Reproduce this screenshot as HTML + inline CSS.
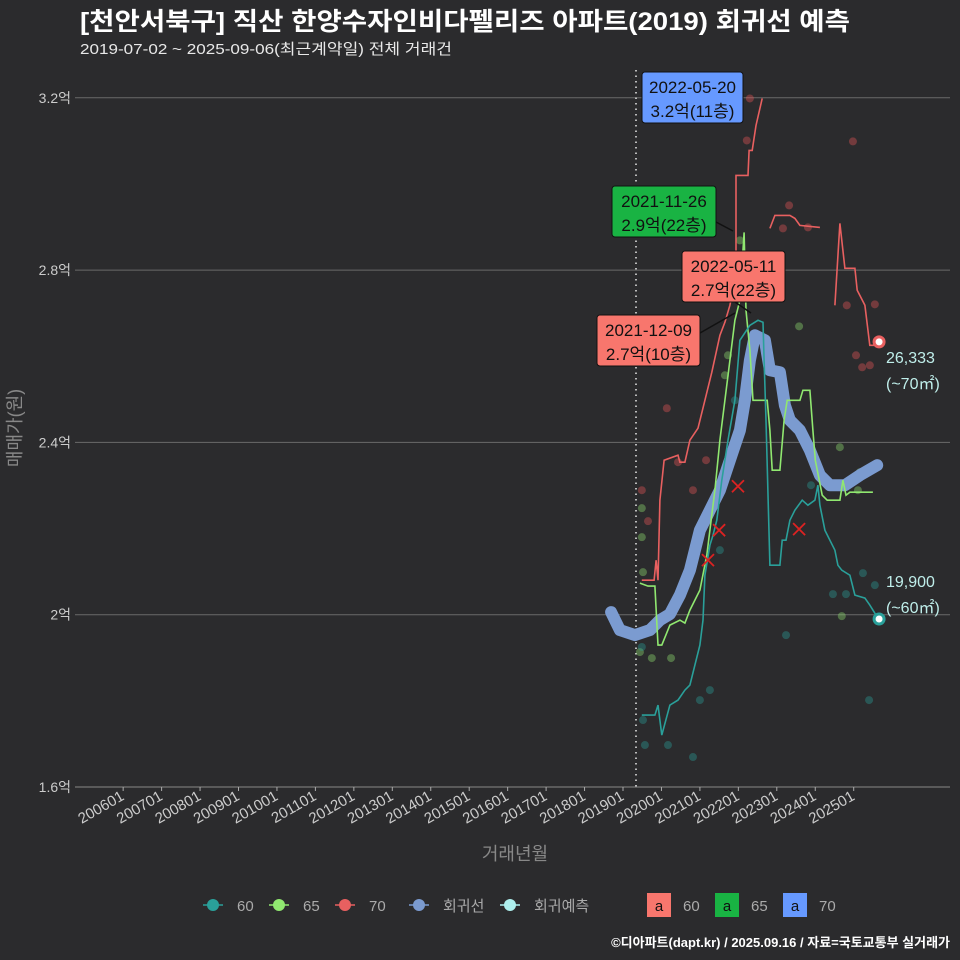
<!DOCTYPE html>
<html><head><meta charset="utf-8"><style>
body{margin:0;background:#2b2b2d;}
svg{display:block;font-family:"Liberation Sans","Noto Sans CJK KR",sans-serif;}
</style></head><body>
<svg id="c" width="960" height="960" viewBox="0 0 960 960">
<rect width="960" height="960" fill="#2b2b2d"/>
<text x="80" y="30" fill="#ffffff" font-size="25" font-weight="bold" textLength="770" lengthAdjust="spacingAndGlyphs">[천안서북구] 직산 한양수자인비다펠리즈 아파트(2019) 회귀선 예측</text>
<text x="80" y="54" fill="#e8e8e8" font-size="15" textLength="372" lengthAdjust="spacingAndGlyphs">2019-07-02 ~ 2025-09-06(최근계약일) 전체 거래건</text>
<text transform="translate(21,428) rotate(-90)" text-anchor="middle" fill="#888" font-size="18">매매가(원)</text>
<text x="515" y="860" text-anchor="middle" fill="#888" font-size="18">거래년월</text>
<g id="grid"></g><g id="marks"></g><g id="ann"></g>
<text x="950" y="947" text-anchor="end" fill="#fff" font-size="13" font-weight="bold">©디아파트(dapt.kr) / 2025.09.16 / 자료=국토교통부 실거래가</text>
<g id="legend"></g>
</svg>
<script>
const yTicks=[16000,20000,24000,28000,32000];
const yTickLabels=["1.6억","2억","2.4억","2.8억","3.2억"];
const xTickYears=[2006,2007,2008,2009,2010,2011,2012,2013,2014,2015,2016,2017,2018,2019,2020,2021,2022,2023,2024,2025];
const regDates=[2018.69,2018.92,2019.31,2019.70,2019.96,2020.22,2020.48,2020.74,2021.00,2021.26,2021.52,2021.78,2022.04,2022.17,2022.30,2022.43,2022.69,2022.82,2023.08,2023.21,2023.34,2023.60,2023.86,2024.12,2024.38,2024.77,2025.16,2025.61];
const regValues=[20060,19642,19526,19642,19874,20014,20454,21034,21962,22426,22890,23586,24282,24978,25906,26486,26370,25674,25628,24862,24514,24282,23818,23238,23006,23006,23238,23470];
const s70Dates=[2019.49,2019.81,2019.86,2019.91,2019.96,2020.07,2020.43,2020.48,2020.61,2020.74,2020.95,2021.13,2021.31,2021.52,2021.65,2021.78,2021.86,2021.94,2021.94,2022.25,2022.28,2022.36,2022.46,2022.62,null,2022.82,2022.95,2023.34,2023.47,2023.60,2024.12,null,2024.51,2024.64,2024.77,2025.03,2025.09,2025.29,2025.42,2025.58];
const s70Values=[20802,20802,21266,20802,22658,23586,23702,23540,23540,24050,24329,24978,25628,26486,26788,27182,27530,28226,30198,30198,30778,30778,31358,31985,null,28969,29270,29270,29201,29038,28992,null,27182,29085,28041,28041,27530,27182,26254,26254];
const s65Dates=[2019.44,2019.65,2019.83,2019.91,2020.01,2020.22,2020.48,2020.61,2020.74,2021.00,2021.18,2021.26,2021.39,2021.52,2021.65,2021.78,2021.91,2022.04,2022.15,2022.20,2022.30,2022.38,2022.75,2022.82,2022.88,2023.08,2023.19,2023.27,2023.60,2023.68,2023.86,2023.94,2024.00,2024.18,2024.31,2024.64,2024.72,2024.80,2024.90,2025.50];
const s65Values=[20733,20663,20663,19294,19294,19758,19874,19805,20106,20570,21382,21962,22890,24050,24978,25906,26834,27298,28876,27066,26138,24978,24978,24282,23354,23354,24514,24978,24978,25210,25210,24282,23586,22774,22658,22658,23122,22774,22844,22844];
const s60Dates=[2019.49,2019.83,2019.91,2020.01,2020.22,2020.43,2020.61,2020.74,2020.87,2021.00,2021.08,2021.13,2021.26,2021.34,2021.44,2021.57,2021.73,2021.91,2022.04,2022.30,2022.51,2022.64,2022.67,2022.72,2022.82,2023.08,2023.14,2023.24,2023.34,2023.47,2023.66,2023.81,2023.99,2024.07,2024.12,2024.25,2024.51,2024.59,2024.69,2024.90,2025.03,2025.29,2025.42,2025.66];
const s60Values=[17670,17670,17902,17206,17902,18018,18250,18366,18830,19294,19874,20918,21614,21846,22194,23122,24050,24978,26370,26718,26834,26788,25906,24514,21150,21150,21730,21730,22194,22426,22658,22542,22658,23006,22542,21962,21498,21150,21034,20918,20454,20385,20222,19874];
const p70Dates=[2019.49,2019.65,2020.14,2020.43,2020.82,2021.16,2022.30,2022.22,2023.32,2023.16,2023.81,2024.98,2024.82,2025.55,2025.06,2025.42,2025.22];
const p70Values=[22890,22171,24793,23540,22890,23586,31985,31010,29502,28969,28992,30987,27182,27205,26022,25790,25744];
const p65Dates=[2019.49,2019.49,2019.52,2019.75,2020.25,2019.44,2021.65,2021.73,2022.04,2023.58,2024.64,2025.16,2025.11,2024.69];
const p65Values=[22473,21800,20988,18993,18993,19132,25558,26022,28690,26695,23888,23308,22890,19967];
const p60Dates=[2019.49,2019.52,2019.57,2020.17,2020.82,2021.00,2021.26,2021.52,2021.91,2023.24,2023.89,2024.28,2024.46,2024.80,2025.40,2025.55,2025.24];
const p60Values=[19250,17554,16974,16974,16696,18018,18250,21498,24978,19526,23006,23120,20478,20478,18018,20686,20965];
const xMarkDates=[2021.99,2021.50,2021.21,2023.58];
const xMarkValues=[22983,21962,21266,21986];
const last70=[2025.66,26333], last60=[2025.66,19900];

const X=t=>623+(t-2019)*38.45;
const Y=v=>787-(v-16000)*172.3/4000;
const NS="http://www.w3.org/2000/svg";
function mk(tag,attrs,parent,text){const e=document.createElementNS(NS,tag);for(const k in attrs)e.setAttribute(k,attrs[k]);if(text!=null)e.textContent=text;parent.appendChild(e);return e;}
const grid=document.getElementById('grid'),marks=document.getElementById('marks'),ann=document.getElementById('ann'),leg=document.getElementById('legend');

yTicks.forEach((v,i)=>{
  const l=mk('line',{x1:75,x2:950,y1:Y(v),y2:Y(v),stroke:i==0?'#888':'#6a6a6a','stroke-width':1},grid);
  
  
  const t=mk('text',{x:71,y:Y(v)+5,'text-anchor':'end',fill:'#ccc','font-size':14},grid,yTickLabels[i]);
  
  
});
xTickYears.forEach(yr=>{
  const x=X(yr);
  const l=mk('line',{x1:x,x2:x,y1:787,y2:791,stroke:'#aaa'},grid);
  
  
  const t=mk('text',{transform:`translate(${x+2},799) rotate(-30)`,'text-anchor':'end',fill:'#ccc','font-size':15},grid,yr+'01');
  
  
});
const dl=mk('line',{x1:636,x2:636,y1:70,y2:787,stroke:'#ddd','stroke-dasharray':'1.5 4','stroke-width':1.6},grid);



function pts(color,ds,vs,name){ds.forEach((d,i)=>{const c=mk('circle',{cx:X(d),cy:Y(vs[i]),r:4,fill:color,opacity:0.4},marks);
  
  });}
pts('#e05555',p70Dates,p70Values,'point-70');
pts('#8fdc6e',p65Dates,p65Values,'point-65');
pts('#2a9a94',p60Dates,p60Values,'point-60');

function path(ds,vs){let d='',pen=false;ds.forEach((t,i)=>{if(t==null){pen=false;return;}d+=(pen?'L':'M')+X(t).toFixed(1)+','+Y(vs[i]).toFixed(1);pen=true;});return d;}
const reg=mk('path',{d:path(regDates,regValues),fill:'none',stroke:'#7b9bd0','stroke-width':12,'stroke-linecap':'round','stroke-linejoin':'round'},marks);


[[s70Dates,s70Values,'#e86060','line-70'],[s65Dates,s65Values,'#90e870','line-65'],[s60Dates,s60Values,'#2aa09a','line-60']].forEach(s=>{
  const p=mk('path',{d:path(s[0],s[1]),fill:'none',stroke:s[2],'stroke-width':1.6},marks);
  
  
});
xMarkDates.forEach((d,i)=>{const x=X(d),y=Y(xMarkValues[i]);
  const p=mk('path',{d:`M${x-6},${y-6}L${x+6},${y+6}M${x-6},${y+6}L${x+6},${y-6}`,stroke:'#dd2222','stroke-width':1.8},marks);
  
  
});
[[last70,'#e86060','last-point-70'],[last60,'#2aa09a','last-point-60']].forEach(a=>{
  const c=mk('circle',{cx:X(a[0][0]),cy:Y(a[0][1]),r:5,fill:'#fff',stroke:a[1],'stroke-width':3},marks);
  
  
});
[[886,363,'26,333'],[886,389,'(~70㎡)'],[886,587,'19,900'],[886,613,'(~60㎡)']].forEach(a=>{
  const t=mk('text',{x:a[0],y:a[1],fill:'#bfeeea','font-size':16},ann,a[2]);
  
  
});
[[642,72,101,'#6699ff','2022-05-20','3.2억(11층)',null],
 [612,186,104,'#19b343','2021-11-26','2.9억(22층)',[716,222,733,231]],
 [682,251,103,'#f8766d','2022-05-11','2.7억(22층)',[735,302,751,313]],
 [597,315,103,'#f8766d','2021-12-09','2.7억(10층)',[700,333,735,313]]].forEach(b=>{
  if(b[6]){const l=mk('line',{x1:b[6][0],y1:b[6][1],x2:b[6][2],y2:b[6][3],stroke:'#111','stroke-width':1.5},ann);
    
    }
  const r=mk('rect',{x:b[0],y:b[1],width:b[2],height:51,rx:3,fill:b[3],stroke:'#111'},ann);
  
  
  const t1=mk('text',{x:b[0]+b[2]/2,y:b[1]+21,'text-anchor':'middle',fill:'#111','font-size':17},ann,b[4]);
  
  
  const t2=mk('text',{x:b[0]+b[2]/2,y:b[1]+45,'text-anchor':'middle',fill:'#111','font-size':17},ann,b[5]);
  
  
});
[[203,'#2aa09a','60'],[269,'#90e870','65'],[335,'#e86060','70'],[409,'#7b9bd0','회귀선'],[500,'#aef0ee','회귀예측']].forEach(a=>{
  const g=mk('g',{},leg);
  
  
  mk('line',{x1:a[0],x2:a[0]+20,y1:905,y2:905,stroke:a[1],'stroke-width':1.5},g);
  mk('circle',{cx:a[0]+10,cy:905,r:6,fill:a[1]},g);
  mk('text',{x:a[0]+34,y:911,fill:'#aaa','font-size':15},g,a[2]);
});
[[647,'#f8766d','60'],[715,'#19b343','65'],[783,'#6699ff','70']].forEach(a=>{
  const g=mk('g',{},leg);
  
  
  mk('rect',{x:a[0],y:893,width:24,height:24,fill:a[1]},g);
  mk('text',{x:a[0]+12,y:911,'text-anchor':'middle',fill:'#111','font-size':15},g,'a');
  mk('text',{x:a[0]+36,y:911,fill:'#aaa','font-size':15},g,a[2]);
});
</script>
</body></html>
